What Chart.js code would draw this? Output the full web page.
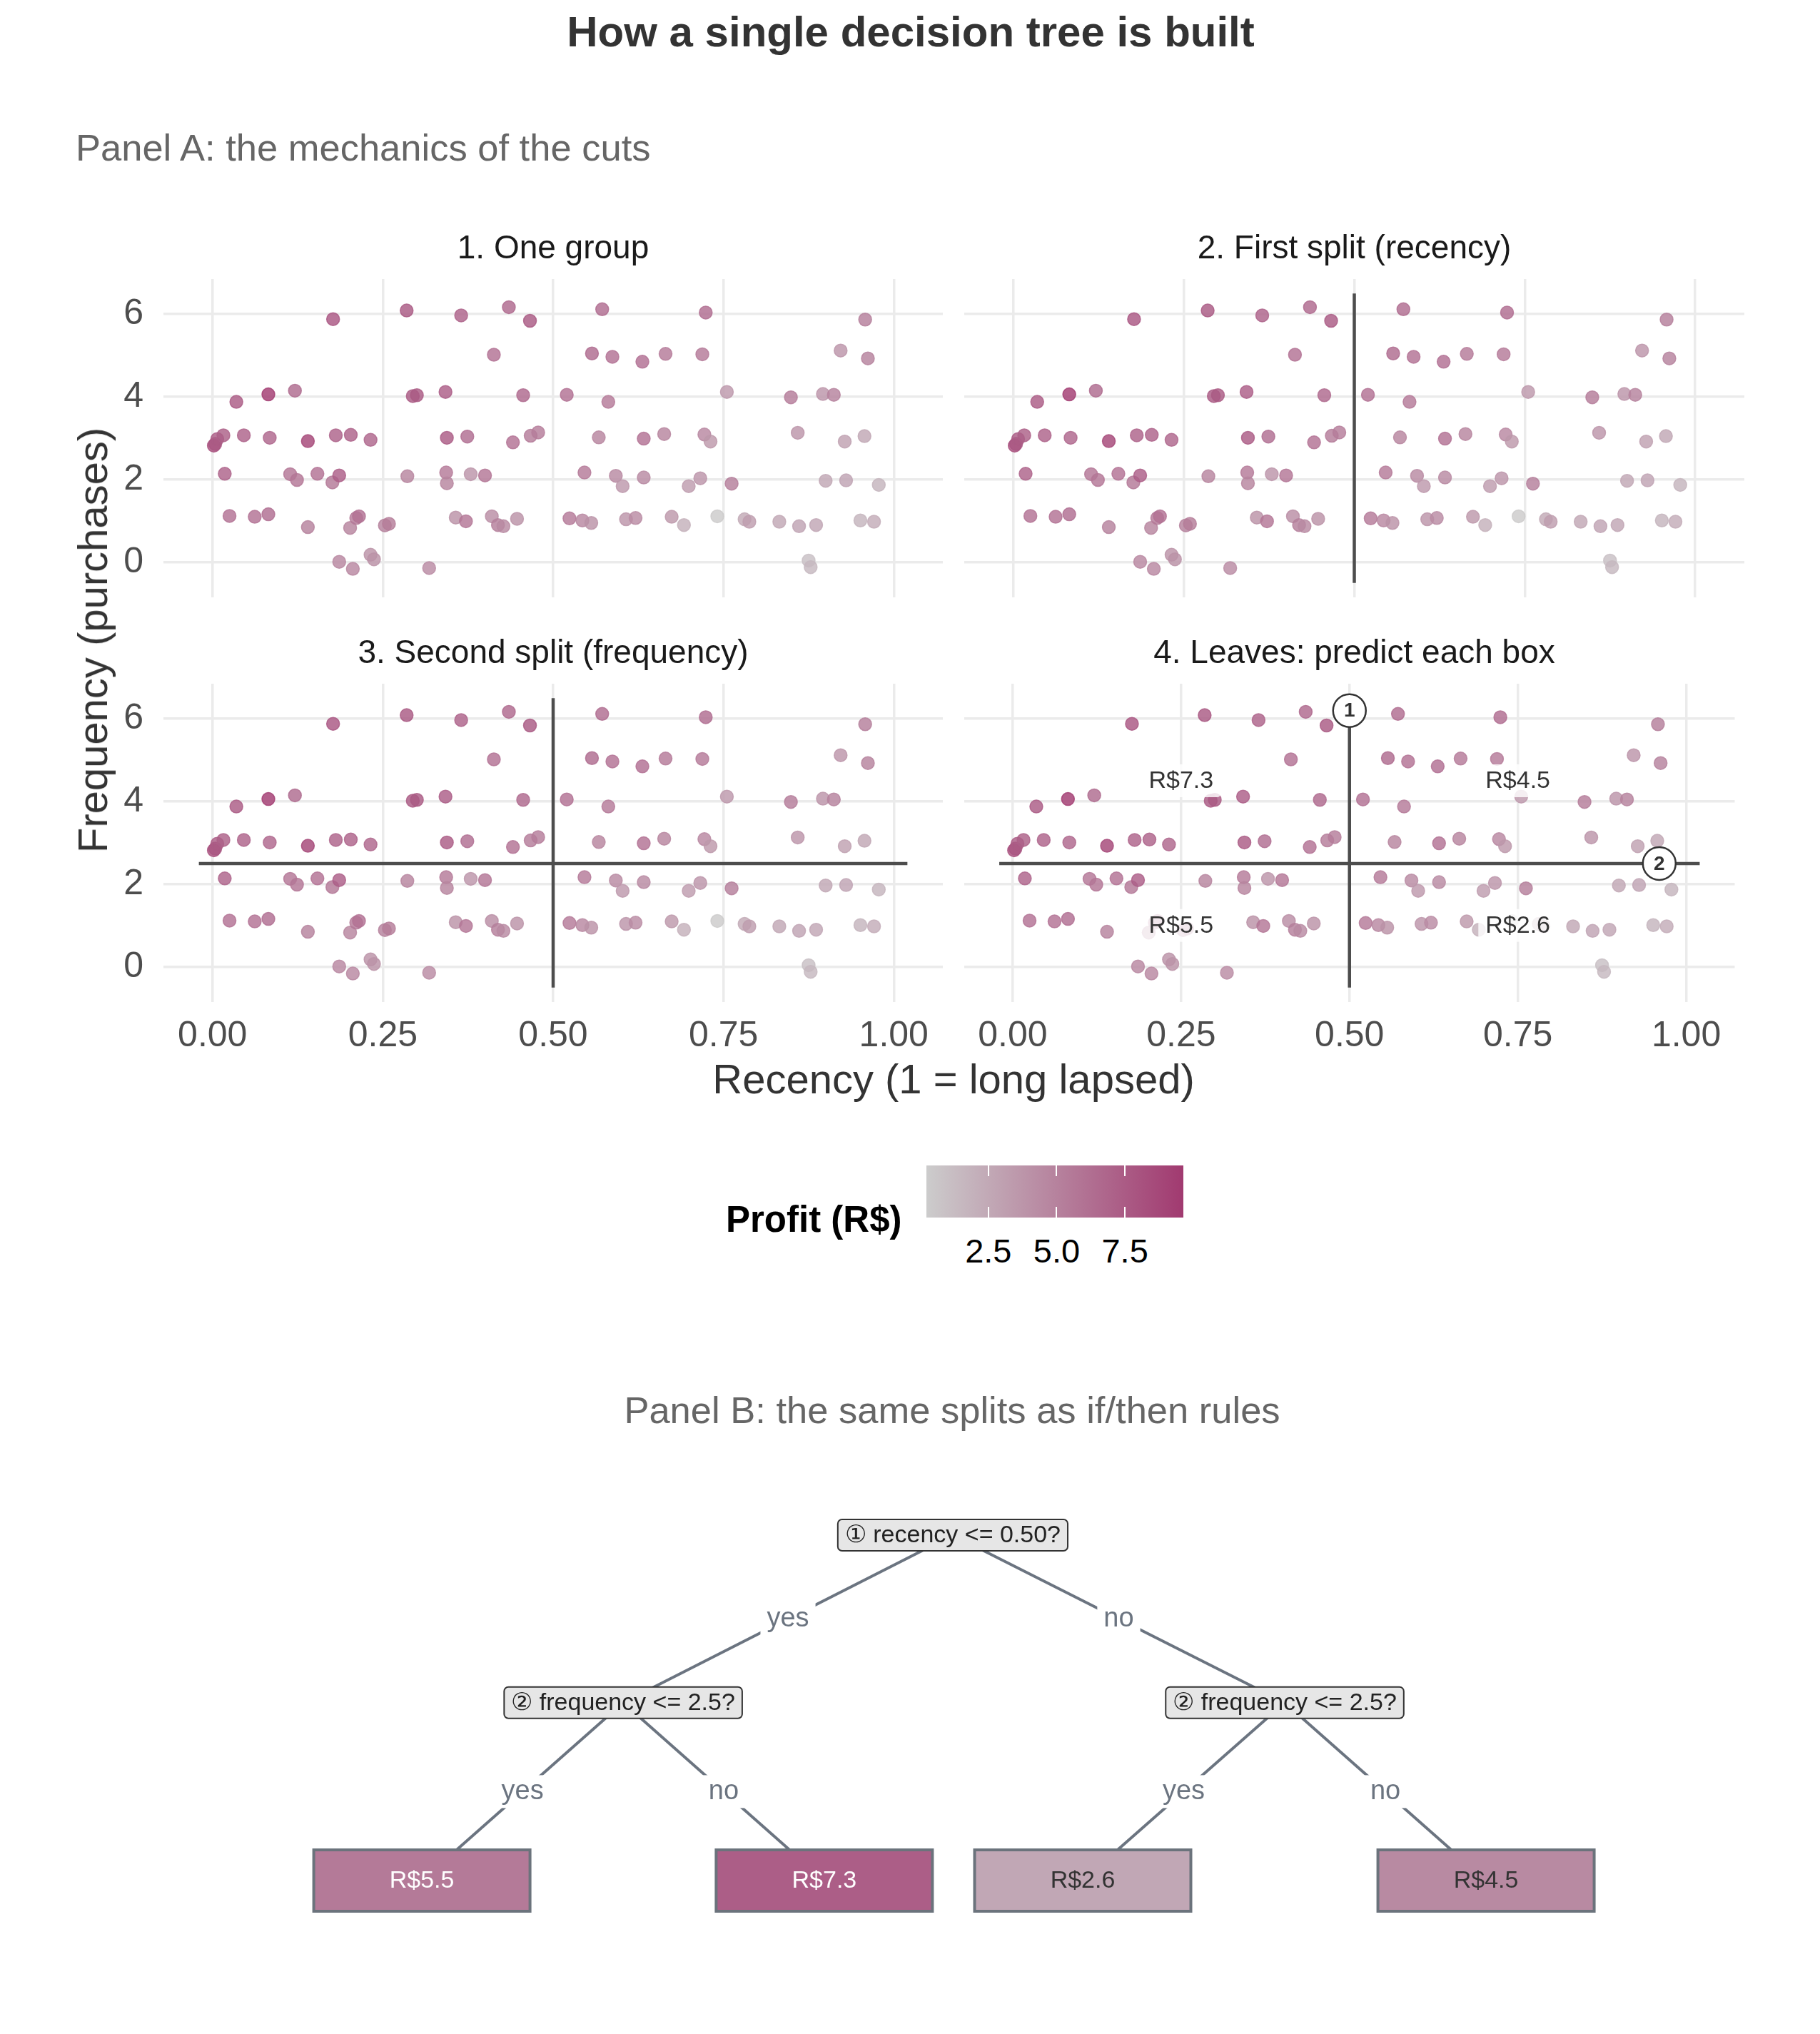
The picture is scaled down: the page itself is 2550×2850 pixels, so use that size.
<!DOCTYPE html>
<html>
<head>
<meta charset="utf-8">
<title>How a single decision tree is built</title>
<script src="https://cdn.jsdelivr.net/npm/chart.js@4.4.1/dist/chart.umd.min.js"></script>
<style>
  html, body { margin: 0; padding: 0; background: #fff; }
  body { width: 2550px; height: 2850px; position: relative; overflow: hidden;
         font-family: "Liberation Sans", Arimo, Helvetica, Arial, sans-serif; }
  .txt { position: absolute; white-space: nowrap; line-height: 1; transform: translate(-50%, -50%); }
  canvas { position: absolute; }
</style>
</head>
<body>
<script>
// ---- data ----
// customers: recency (0..1), jittered purchase count, profit in R$
const recency = [
  0.177, 0.285, 0.365, 0.435, 0.466, 0.572, 0.724, 0.958,
  0.413, 0.557, 0.587, 0.631, 0.665, 0.719, 0.922, 0.962,
  0.035, 0.082, 0.121, 0.294, 0.300, 0.342, 0.456, 0.520, 0.581, 0.755, 0.849, 0.896, 0.912,
  0.002, 0.004, 0.007, 0.016, 0.046, 0.084, 0.140, 0.181, 0.203, 0.232, 0.344, 0.374, 0.441,
  0.467, 0.478, 0.567, 0.633, 0.663, 0.722, 0.731, 0.859, 0.928, 0.957,
  0.018, 0.114, 0.124, 0.154, 0.176, 0.186, 0.286, 0.343, 0.344, 0.379, 0.400, 0.546, 0.592,
  0.602, 0.633, 0.699, 0.716, 0.762, 0.900, 0.930, 0.978,
  0.025, 0.062, 0.082, 0.140, 0.202, 0.211, 0.215, 0.253, 0.259, 0.357, 0.372, 0.410, 0.419,
  0.427, 0.447, 0.524, 0.543, 0.556, 0.607, 0.621, 0.674, 0.692, 0.741, 0.781, 0.788, 0.832,
  0.861, 0.886, 0.951, 0.971,
  0.186, 0.206, 0.232, 0.237, 0.318, 0.875, 0.878
];
const frequency = [
  5.88, 6.09, 5.97, 6.17, 5.84, 6.12, 6.04, 5.87,
  5.02, 5.05, 4.97, 4.85, 5.04, 5.03, 5.12, 4.93,
  3.88, 4.06, 4.15, 4.02, 4.04, 4.12, 4.04, 4.05, 3.88, 4.12, 3.99, 4.07, 4.05,
  2.82, 2.86, 2.98, 3.07, 3.07, 3.01, 2.93, 3.07, 3.08, 2.96, 3.01, 3.04, 2.90,
  3.06, 3.14, 3.02, 2.99, 3.10, 3.09, 2.92, 3.13, 2.92, 3.05,
  2.14, 2.13, 1.99, 2.14, 1.93, 2.10, 2.08, 2.17, 1.91, 2.13, 2.10, 2.17, 2.09,
  1.84, 2.05, 1.84, 2.03, 1.90, 1.97, 1.98, 1.87,
  1.12, 1.10, 1.16, 0.85, 0.83, 1.07, 1.11, 0.89, 0.93, 1.08, 0.99, 1.11, 0.90,
  0.87, 1.05, 1.06, 1.01, 0.95, 1.04, 1.07, 1.10, 0.90, 1.11, 1.04, 0.98, 0.98,
  0.87, 0.90, 1.01, 0.98,
  0.01, -0.16, 0.18, 0.07, -0.14, 0.04, -0.12
];
const profit = [
  7.8, 7.6, 7.0, 6.6, 7.6, 6.4, 6.4, 5.2,
  6.0, 6.5, 6.0, 6.2, 5.5, 5.5, 3.8, 5.0,
  7.5, 9.5, 6.5, 7.6, 7.6, 7.3, 6.6, 6.0, 5.5, 3.5, 5.3, 3.8, 5.0,
  8.2, 7.8, 7.5, 7.2, 7.0, 6.8, 8.8, 7.0, 7.0, 6.8, 7.5, 6.3, 6.0,
  5.3, 5.3, 4.8, 6.0, 4.8, 4.6, 3.6, 3.8, 3.0, 2.6,
  7.0, 5.8, 5.8, 6.0, 5.6, 7.3, 4.8, 5.5, 4.8, 3.8, 5.8, 5.5, 4.5,
  3.5, 4.5, 3.3, 3.8, 5.2, 2.6, 2.8, 1.8,
  6.0, 6.0, 6.3, 5.0, 4.8, 5.5, 6.0, 5.0, 5.4, 4.0, 5.8, 4.2, 5.2,
  4.5, 4.0, 5.5, 4.6, 4.0, 3.8, 4.4, 3.6, 2.0, 0.3, 2.5, 3.2, 2.6,
  2.8, 2.7, 1.8, 2.3,
  4.6, 4.6, 4.0, 4.0, 4.4, 1.0, 1.5
];

const xBreaks = [0, 0.25, 0.5, 0.75, 1];
const yBreaks = [0, 2, 4, 6];
const panelTitles = ['1. One group', '2. First split (recency)', '3. Second split (frequency)', '4. Leaves: predict each box'];

// the two cuts and how far their lines run
const recencyCut = 0.5;
const frequencyCut = 2.5;
const cutSpanFrequency = [-0.5, 6.5];
const cutSpanRecency = [-0.02, 1.02];

// leaf predictions written in panel 4
const leafText = ['R$7.3', 'R$4.5', 'R$5.5', 'R$2.6'];
const leafTextRecency = [0.25, 0.75, 0.25, 0.75];
const leafTextFrequency = [4.5, 4.5, 1.0, 1.0];

// numbered cut markers in panel 4
const stepMarks = ['1', '2'];
const stepMarkRecency = [0.5, 0.96];
const stepMarkFrequency = [6.2, 2.5];

// colour scale
const profitTicks = [2.5, 5.0, 7.5];
const profitLimits = [0.23, 9.64];

// Panel B tree
const nodeText = ['\u2460 recency <= 0.50?', '\u2461 frequency <= 2.5?', '\u2461 frequency <= 2.5?',
                  'R$5.5', 'R$7.3', 'R$2.6', 'R$4.5'];
const nodeValue = [null, null, null, 5.5, 7.3, 2.6, 4.5];
const nodeX = [0.5235, 0.3424, 0.7059, 0.2318, 0.4529, 0.5949, 0.8165];
const nodeDepth = [0, 0.97, 0.97, 2, 2, 2, 2];
const edgeFrom = [0, 0, 1, 1, 2, 2];
const edgeTo = [1, 2, 3, 4, 5, 6];
const edgeText = ['yes', 'no', 'yes', 'no', 'yes', 'no'];

// ---- helpers ----
const FONT = '"Liberation Sans", Arimo, Helvetica, Arial, sans-serif';
Chart.defaults.font.family = FONT;
Chart.defaults.animation = false;

const LOW = [204, 204, 204];
const HIGH = [161, 58, 112];

function profitColor(v, alpha) {
  let t = (v - profitLimits[0]) / (profitLimits[1] - profitLimits[0]);
  t = Math.max(0, Math.min(1, t));
  const c = LOW.map((l, i) => Math.round(l + t * (HIGH[i] - l)));
  return alpha == null ? `rgb(${c})` : `rgba(${c},${alpha})`;
}

function putText(str, x, y, css) {
  const d = document.createElement('div');
  d.className = 'txt';
  d.textContent = str;
  d.style.left = x + 'px';
  d.style.top = y + 'px';
  Object.assign(d.style, css || {});
  document.body.appendChild(d);
  return d;
}

function makeCanvas(left, top, w, h) {
  const c = document.createElement('canvas');
  c.width = w; c.height = h;
  c.style.left = left + 'px'; c.style.top = top + 'px';
  c.style.width = w + 'px'; c.style.height = h + 'px';
  document.body.appendChild(c);
  return c;
}

// ---- headings ----
putText('How a single decision tree is built', 1276, 45, { fontSize: '60px', fontWeight: 'bold', color: '#333' });
putText('Panel A: the mechanics of the cuts', 106, 207, { fontSize: '52.5px', color: '#666', transform: 'translate(0,-50%)' });
putText('Panel B: the same splits as if/then rules', 1334, 1976, { fontSize: '52.5px', color: '#666' });

// ---- Panel A: four facets ----
const PANEL_AREAS = [
  { left: 229, top: 391, right: 1321, bottom: 837 },
  { left: 1351, top: 391, right: 2444, bottom: 837 },
  { left: 229, top: 958, right: 1321, bottom: 1404 },
  { left: 1351, top: 958, right: 2444, bottom: 1404 }
];
// top padding must exceed the half-label room Chart.js keeps for y ticks
const PAD = { l: 130, t: 70, r: 12, b: 90 };

const leafLabelPlugin = {
  id: 'leafLabels',
  afterDatasetsDraw(chart) {
    const { ctx, scales: { x, y } } = chart;
    ctx.save();
    ctx.textAlign = 'center';
    ctx.textBaseline = 'middle';
    ctx.font = `34px ${FONT}`;
    leafText.forEach((t, i) => {
      const px = x.getPixelForValue(leafTextRecency[i]);
      const py = y.getPixelForValue(leafTextFrequency[i]);
      const w = ctx.measureText(t).width + 20, h = 46;
      ctx.fillStyle = 'rgba(255,255,255,0.82)';
      ctx.beginPath();
      ctx.roundRect(px - w / 2, py - h / 2, w, h, 5);
      ctx.fill();
      ctx.fillStyle = '#333';
      ctx.fillText(t, px, py + 1);
    });
    ctx.font = `bold 28px ${FONT}`;
    stepMarks.forEach((t, i) => {
      ctx.fillText(t, x.getPixelForValue(stepMarkRecency[i]), y.getPixelForValue(stepMarkFrequency[i]) + 1);
    });
    ctx.restore();
  }
};

function cutDatasets(step) {
  const sets = [];
  if (step >= 2) sets.push([{ x: recencyCut, y: cutSpanFrequency[0] }, { x: recencyCut, y: cutSpanFrequency[1] }]);
  if (step >= 3) sets.push([{ x: cutSpanRecency[0], y: frequencyCut }, { x: cutSpanRecency[1], y: frequencyCut }]);
  return sets.map(d => ({
    type: 'line', data: d, borderColor: '#4d4d4d', borderWidth: 4.5,
    pointRadius: 0, fill: false, order: 2
  }));
}

const customers = recency.map((r, i) => ({ x: r, y: frequency[i] }));

PANEL_AREAS.forEach((a, k) => {
  const step = k + 1;
  const w = a.right - a.left + PAD.l + PAD.r;
  const h = a.bottom - a.top + PAD.t + PAD.b;
  const canvas = makeCanvas(a.left - PAD.l, a.top - PAD.t, w, h);

  putText(panelTitles[k], (a.left + a.right) / 2, a.top - 45, { fontSize: '46px', color: '#1a1a1a' });

  const datasets = [{
    type: 'scatter',
    data: customers,
    pointRadius: 9,
    pointHoverRadius: 9,
    backgroundColor: profit.map(p => profitColor(p, 0.82)),
    borderColor: profit.map(p => profitColor(p, 0.82)),
    borderWidth: 1.5,
    order: 3
  }].concat(cutDatasets(step));

  if (step === 4) {
    datasets.push({
      type: 'scatter',
      data: stepMarkRecency.map((r, i) => ({ x: r, y: stepMarkFrequency[i] })),
      pointRadius: 23,
      pointHoverRadius: 23,
      backgroundColor: '#fff',
      borderColor: '#333',
      borderWidth: 2.5,
      clip: false,
      order: 1
    });
  }

  // every facet keeps the same tick layout; only the bottom row / left column shows the labels
  const showX = step >= 3, showY = step % 2 === 1;

  new Chart(canvas, {
    data: { datasets },
    plugins: step === 4 ? [leafLabelPlugin] : [],
    options: {
      responsive: false,
      devicePixelRatio: 1,
      animation: false,
      layout: { padding: { left: 0, top: PAD.t, right: PAD.r, bottom: 0 } },
      plugins: { legend: { display: false }, tooltip: { enabled: false }, title: { display: false } },
      scales: {
        x: {
          type: 'linear', min: -0.072, max: 1.072,
          afterBuildTicks: s => { s.ticks = xBreaks.map(v => ({ value: v })); },
          afterFit: s => { s.height = PAD.b; },
          grid: { color: '#ebebeb', lineWidth: 3.5, drawTicks: false },
          border: { display: false },
          ticks: {
            padding: 18, color: showX ? '#4d4d4d' : 'rgba(0,0,0,0)', maxRotation: 0, autoSkip: false,
            font: { size: 50, family: FONT },
            callback: v => v.toFixed(2)
          }
        },
        y: {
          type: 'linear', min: -0.85, max: 6.85,
          afterBuildTicks: s => { s.ticks = yBreaks.map(v => ({ value: v })); },
          afterFit: s => { s.width = PAD.l; },
          grid: { color: '#ebebeb', lineWidth: 3.5, drawTicks: false },
          border: { display: false },
          ticks: {
            padding: 28, color: showY ? '#4d4d4d' : 'rgba(0,0,0,0)', autoSkip: false,
            font: { size: 50, family: FONT },
            callback: v => String(v)
          }
        }
      }
    }
  });
});

// axis titles
putText('Recency (1 = long lapsed)', 1336, 1512, { fontSize: '58px', color: '#333' });
putText('Frequency (purchases)', 130, 897, { fontSize: '58px', color: '#333', transform: 'translate(-50%,-50%) rotate(-90deg)' });

// ---- colour legend ----
const BAR = { left: 1298, top: 1633, width: 360, height: 73 };
putText('Profit (R$)', 1017, 1708, { fontSize: '51px', fontWeight: 'bold', color: '#000', transform: 'translate(0,-50%)' });
const bar = document.createElement('div');
Object.assign(bar.style, {
  position: 'absolute', left: BAR.left + 'px', top: BAR.top + 'px',
  width: BAR.width + 'px', height: BAR.height + 'px',
  background: `linear-gradient(to right, ${profitColor(profitLimits[0])}, ${profitColor(profitLimits[1])})`
});
document.body.appendChild(bar);
profitTicks.forEach(v => {
  const px = BAR.left + (v - profitLimits[0]) / (profitLimits[1] - profitLimits[0]) * BAR.width;
  [BAR.top, BAR.top + BAR.height - 15].forEach(ty => {
    const t = document.createElement('div');
    Object.assign(t.style, { position: 'absolute', left: (px - 1) + 'px', top: ty + 'px', width: '2px', height: '15px', background: '#fff' });
    document.body.appendChild(t);
  });
  putText(v.toFixed(1), px, 1752, { fontSize: '47px', color: '#000' });
});

// ---- Panel B: the tree ----
const TREE = { left: 0, top: 2080, width: 2550, height: 660 };
const treeCanvas = makeCanvas(TREE.left, TREE.top, TREE.width, TREE.height);

const treePlugin = {
  id: 'treeBoxes',
  afterDatasetsDraw(chart) {
    const { ctx, scales: { x, y } } = chart;
    ctx.save();
    ctx.textAlign = 'center';
    ctx.textBaseline = 'middle';
    // edge labels on white patches
    ctx.font = `38px ${FONT}`;
    edgeText.forEach((t, i) => {
      const a = edgeFrom[i], b = edgeTo[i];
      const px = (x.getPixelForValue(nodeX[a]) + x.getPixelForValue(nodeX[b])) / 2;
      const py = (y.getPixelForValue(nodeDepth[a]) + y.getPixelForValue(nodeDepth[b])) / 2;
      const w = ctx.measureText(t).width + 18, h = 46;
      ctx.fillStyle = '#fff';
      ctx.fillRect(px - w / 2, py - h / 2, w, h);
      ctx.fillStyle = '#6b7480';
      ctx.fillText(t, px, py);
    });
    // nodes
    nodeText.forEach((t, i) => {
      const px = x.getPixelForValue(nodeX[i]);
      const py = y.getPixelForValue(nodeDepth[i]);
      ctx.font = `34px ${FONT}`;
      if (nodeValue[i] == null) {
        const w = ctx.measureText(t).width + 20, h = 44;
        ctx.fillStyle = '#e6e6e6';
        ctx.strokeStyle = '#333';
        ctx.lineWidth = 2;
        ctx.beginPath();
        ctx.roundRect(px - w / 2, py - h / 2, w, h, 6);
        ctx.fill();
        ctx.stroke();
        ctx.fillStyle = '#222';
        ctx.fillText(t, px, py + 1);
      } else {
        const w = 303, h = 86;
        ctx.fillStyle = profitColor(nodeValue[i]);
        ctx.strokeStyle = '#6b737c';
        ctx.lineWidth = 4;
        ctx.fillRect(px - w / 2, py - h / 2, w, h);
        ctx.strokeRect(px - w / 2, py - h / 2, w, h);
        ctx.fillStyle = nodeValue[i] > 5 ? '#fff' : '#333';
        ctx.fillText(t, px, py + 1);
      }
    });
    ctx.restore();
  }
};

new Chart(treeCanvas, {
  data: {
    datasets: edgeFrom.map((a, i) => ({
      type: 'line',
      data: [{ x: nodeX[a], y: nodeDepth[a] }, { x: nodeX[edgeTo[i]], y: nodeDepth[edgeTo[i]] }],
      borderColor: '#6b7480',
      borderWidth: 4,
      pointRadius: 0,
      fill: false,
      clip: false
    }))
  },
  plugins: [treePlugin],
  options: {
    responsive: false,
    devicePixelRatio: 1,
    animation: false,
    layout: { padding: { left: 0, right: 0, top: 71, bottom: 105 } },
    plugins: { legend: { display: false }, tooltip: { enabled: false } },
    scales: {
      x: { type: 'linear', min: 0, max: 1, display: false },
      y: { type: 'linear', min: 0, max: 2, reverse: true, display: false }
    }
  }
});
</script>
</body>
</html>
